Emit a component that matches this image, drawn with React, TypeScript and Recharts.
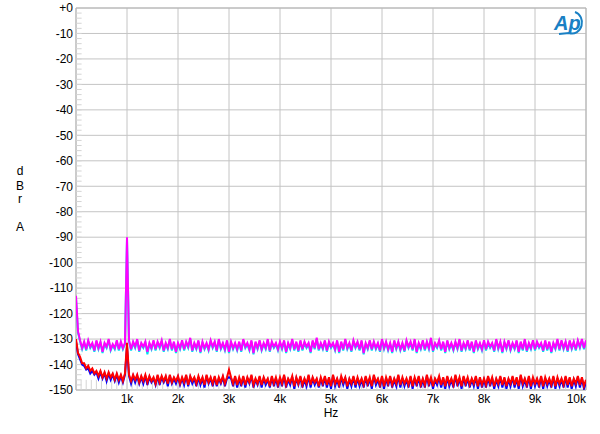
import React from 'react';
import { LineChart, Line, XAxis, YAxis, CartesianGrid, ReferenceLine, ReferenceArea } from 'recharts';

// FFT bin spacing (Hz) of the measurement
const BIN_HZ = 40;

const X_TICKS = [1000, 2000, 3000, 4000, 5000, 6000, 7000, 8000, 9000, 10000];
const X_LABELS = ['1k', '2k', '3k', '4k', '5k', '6k', '7k', '8k', '9k', '10k'];
const Y_TICKS = [-150, -140, -130, -120, -110, -100, -90, -80, -70, -60, -50, -40, -30, -20, -10, 0];

const CYAN = [
  -114, -127.5, -131, -134, -131.5, -134.5, -131, -133.5, -132, -135,
  -131, -134, -131.5, -135.5, -132, -133.5, -130.5, -134.5, -132.5, -134,
  -131, -134.5, -131.5, -134, -132, -90.5, -131, -134.5, -131.5, -133.5,
  -130.5, -135, -132, -133.5, -131.5, -136, -132, -134, -131, -134.5,
  -131.5, -133.5, -131, -135, -132, -134, -130.5, -134.5, -131.5, -135.5,
  -132, -134, -131, -134.5, -131.5, -133.5, -130, -135, -132, -134,
  -131, -135.5, -131.5, -134, -132, -134.5, -131, -133.5, -131.5, -135,
  -130.5, -134, -132, -134.5, -131, -135.5, -131.5, -134, -132, -134.5,
  -131.5, -135, -130.5, -133.5, -132, -134.5, -131, -136, -131.5, -134,
  -131, -134.5, -132, -134, -130.5, -135, -131.5, -133.5, -132, -134.5,
  -131.5, -134, -131, -135.5, -132, -134, -130.5, -134.5, -131.5, -135,
  -131, -134.5, -131.5, -133.5, -132, -135.5, -131, -134, -130, -134.5,
  -132, -134, -131, -135, -131.5, -133.5, -132, -134.5, -131, -135.5,
  -131.5, -134.5, -130.5, -134, -132, -135, -131, -133.5, -131.5, -134.5,
  -131, -136, -132, -134, -131, -134.5, -131.5, -134, -132, -135,
  -130.5, -134, -131.5, -134.5, -132, -135.5, -131, -134, -131.5, -134.5,
  -132, -135, -131, -133.5, -131.5, -134.5, -130.5, -135.5, -132, -134,
  -131, -134.5, -131.5, -134, -130, -135, -132, -133.5, -131, -134.5,
  -131.5, -135.5, -131, -134, -132, -134.5, -131.5, -134, -130.5, -135,
  -132, -134, -131, -134.5, -131.5, -135.5, -131, -134, -132, -134.5,
  -131, -134.5, -131.5, -133.5, -132, -135, -130.5, -134, -131.5, -135.5,
  -131.5, -134, -131, -134.5, -132, -134, -131, -135.5, -131.5, -134.5,
  -130.5, -135, -132, -134, -131, -134.5, -131.5, -133.5, -132, -135,
  -131, -134.5, -131.5, -135.5, -132, -134, -130.5, -134.5, -131, -134,
  -131.5, -135, -131, -134, -131.5, -134.5, -131, -133.5, -130.5, -134,
  -131,
];

const MAGENTA = [
  -113, -127, -130.5, -133.5, -131, -134, -130.5, -133, -131.5, -134.5,
  -130.5, -133.5, -131, -135, -131.5, -133, -130, -134, -132, -133.5,
  -130.5, -134, -131, -133.5, -131.5, -90, -130.5, -134, -131, -133,
  -130, -134.5, -131.5, -133, -131, -135, -131.5, -133.5, -130.5, -134,
  -131, -133, -130.5, -134.5, -131.5, -133.5, -130, -134, -131, -135,
  -131.5, -133.5, -130.5, -134, -131, -133, -129.5, -134.5, -131.5, -133.5,
  -130.5, -135, -131, -133.5, -131.5, -134, -130.5, -133, -131, -134.5,
  -130, -133.5, -131.5, -134, -130.5, -135, -131, -133.5, -131.5, -134,
  -131, -134.5, -130, -133, -131.5, -134, -130.5, -135.5, -131, -133.5,
  -130.5, -134, -131.5, -133.5, -130, -134.5, -131, -133, -131.5, -134,
  -131, -133.5, -130.5, -135, -131.5, -133.5, -130, -134, -131, -134.5,
  -130.5, -134, -131, -133, -131.5, -135, -130.5, -133.5, -129.5, -134,
  -131.5, -133.5, -130.5, -134.5, -131, -133, -131.5, -134, -130.5, -135,
  -131, -134, -130, -133.5, -131.5, -134.5, -130.5, -133, -131, -134,
  -130.5, -135.5, -131.5, -133.5, -130.5, -134, -131, -133.5, -131.5, -134.5,
  -130, -133.5, -131, -134, -131.5, -135, -130.5, -133.5, -131, -134,
  -131.5, -134.5, -130.5, -133, -131, -134, -130, -135, -131.5, -133.5,
  -130.5, -134, -131, -133.5, -129.5, -134.5, -131.5, -133, -130.5, -134,
  -131, -135, -130.5, -133.5, -131.5, -134, -131, -133.5, -130, -134.5,
  -131.5, -133.5, -130.5, -134, -131, -135, -130.5, -133.5, -131.5, -134,
  -130.5, -134, -131, -133, -131.5, -134.5, -130, -133.5, -131, -135,
  -131, -133.5, -130.5, -134, -131.5, -133.5, -130.5, -135, -131, -134,
  -130, -134.5, -131.5, -133.5, -130.5, -134, -131, -133, -131.5, -134.5,
  -130.5, -134, -131, -135, -131.5, -133.5, -130, -134, -130.5, -133.5,
  -131, -134.5, -130.5, -133.5, -131, -134, -130.5, -133, -130, -133.5,
  -130.5,
];

const BLUE = [
  -131, -136, -138, -140, -140.5, -142, -141.5, -143.5, -142.5, -144,
  -143, -145.5, -143, -145.5, -143.5, -146.5, -143.5, -146, -144, -146.5,
  -144, -147, -144.5, -147, -144, -133, -144.5, -147.5, -144.5, -147,
  -144.5, -147.5, -145, -147.5, -144.5, -148, -145, -147, -145.5, -148,
  -144.5, -148, -145, -147, -145, -148.5, -144.5, -147.5, -145.5, -147.5,
  -145, -148, -145.5, -148, -144.5, -148.5, -145, -147.5, -145.5, -148.5,
  -145, -148, -145.5, -149, -144.5, -147.5, -145.5, -148.5, -145, -148.5,
  -145.5, -147.5, -145, -148.5, -145.5, -145, -145.5, -148.5, -145, -149,
  -145.5, -148.5, -145, -149, -145.5, -147.5, -144.5, -149, -146, -148,
  -145, -149, -145.5, -148, -146, -149, -145, -148.5, -145.5, -149,
  -145.5, -148.5, -144.5, -149, -146, -148, -145, -149.5, -145.5, -148,
  -145, -149, -146, -148.5, -144.5, -149, -145.5, -148, -146, -149,
  -145.5, -148.5, -145, -149, -145.5, -149.5, -144.5, -148.5, -146, -149,
  -145, -148, -145.5, -149.5, -146, -148.5, -145, -149, -145.5, -148.5,
  -146, -149, -145, -148.5, -145.5, -149.5, -144.5, -148, -146, -149,
  -145, -149.5, -145.5, -148.5, -145, -149, -146, -148.5, -144.5, -149,
  -145.5, -148.5, -146, -149, -145, -149.5, -145.5, -148.5, -145, -149,
  -146, -149, -144.5, -148.5, -145.5, -149.5, -146, -148, -145, -149,
  -145.5, -149.5, -145, -148.5, -146, -149, -144.5, -148.5, -145.5, -149.5,
  -145, -148.5, -145.5, -149, -146, -148.5, -145, -149.5, -145.5, -149,
  -146, -149, -145, -148.5, -145.5, -149.5, -146, -148.5, -145, -149,
  -145.5, -149.5, -146, -148.5, -145, -149, -145.5, -149.5, -144.5, -148.5,
  -146, -149, -145, -149.5, -145.5, -148.5, -146, -149, -145, -149.5,
  -145.5, -148.5, -146, -149, -145, -149.5, -145.5, -148.5, -146, -149,
  -145, -149, -145.5, -149.5, -146, -148.5, -145, -149, -145.5, -149.5,
  -147,
];

const RED = [
  -130, -135.5, -137, -139.5, -139.5, -141.5, -140.5, -142.5, -141.5, -143.5,
  -142.5, -144.5, -142.5, -145, -143, -145.5, -143, -145, -143.5, -146,
  -143.5, -146, -144, -146.5, -143.5, -131.5, -144, -146.5, -144, -146,
  -144, -147, -144.5, -146.5, -144, -147, -144.5, -146.5, -145, -147.5,
  -144, -147, -144.5, -146.5, -144.5, -147.5, -144, -147, -145, -146.5,
  -144.5, -147.5, -145, -147, -144, -148, -144.5, -146.5, -145, -147.5,
  -144.5, -147, -145, -148, -144, -147, -145, -147.5, -144.5, -148,
  -145, -147, -144.5, -147.5, -145, -142, -145, -147.5, -144.5, -148,
  -145, -147.5, -144.5, -148, -145, -147, -144, -148, -145.5, -147.5,
  -144.5, -148, -145, -147, -145.5, -148.5, -144.5, -147.5, -145, -148,
  -145, -147.5, -144, -148, -145.5, -147, -144.5, -148.5, -145, -147.5,
  -144.5, -148, -145.5, -147.5, -144, -148, -145, -147, -145.5, -148.5,
  -145, -147.5, -144.5, -148, -145, -148.5, -144, -147.5, -145.5, -148,
  -144.5, -147, -145, -148.5, -145.5, -147.5, -144.5, -148, -145, -147.5,
  -145.5, -148, -144.5, -147.5, -145, -148.5, -144, -147, -145.5, -148,
  -144.5, -148.5, -145, -147.5, -144.5, -148, -145.5, -147.5, -144, -148,
  -145, -147.5, -145.5, -148, -144.5, -148.5, -145, -147.5, -144.5, -148,
  -145.5, -148, -144, -147.5, -145, -148.5, -145.5, -147, -144.5, -148,
  -145, -148.5, -144.5, -147.5, -145.5, -148, -144, -147.5, -145, -148.5,
  -144.5, -147.5, -145, -148, -145.5, -147.5, -144.5, -148.5, -145, -148,
  -145.5, -148, -144.5, -147.5, -145, -148.5, -145.5, -147.5, -144.5, -148,
  -145, -148.5, -145.5, -147.5, -144.5, -148, -145, -148.5, -144, -147.5,
  -145.5, -148, -144.5, -148.5, -145, -147.5, -145.5, -148, -144.5, -148.5,
  -145, -147.5, -145.5, -148, -144.5, -148.5, -145, -147.5, -145.5, -148,
  -144.5, -148, -145, -148.5, -145.5, -147.5, -144.5, -148, -145, -148.5,
  -146,
];

const DATA = MAGENTA.map((_, i) => ({
  f: i * BIN_HZ,
  cyan: CYAN[i],
  magenta: MAGENTA[i],
  blue: BLUE[i],
  red: RED[i],
}));

// minor tick positions (axis decoration)
const X_MINOR: number[] = [];
for (let f = 100; f < 10000; f += 100) X_MINOR.push(f);
const Y_MINOR: number[] = [];
for (let v = -148; v < 0; v += 2) Y_MINOR.push(v);

const FONT = '"Liberation Sans", Arial, sans-serif';

const XTick = (props: any) => {
  const { x, y, payload, index } = props;
  const label = X_LABELS[index] ?? '';
  const last = payload.value === 10000;
  return (
    <text x={x} y={y} dy="0.71em" textAnchor={last ? 'end' : 'middle'} fontSize={12} fontFamily={FONT} fill="#000">
      {label}
    </text>
  );
};

export default function App() {
  return (
    <div style={{ position: 'absolute', left: 0, top: 0, width: 600, height: 434, background: '#fff' }}>
      <LineChart width={600} height={434} data={DATA} margin={{ top: 8, right: 14, bottom: 0, left: 0 }}>
        <CartesianGrid stroke="#c4c4c4" strokeWidth={1} vertical horizontal />
        <XAxis
          dataKey="f"
          type="number"
          domain={[0, 10000]}
          ticks={X_TICKS}
          height={44}
          axisLine={false}
          tickLine={false}
          tickSize={0}
          tickMargin={4}
          tick={<XTick />}
          interval={0}
          allowDataOverflow
        />
        <YAxis
          type="number"
          domain={[-150, 0]}
          ticks={Y_TICKS}
          width={76}
          axisLine={false}
          tickLine={false}
          tickSize={0}
          tickMargin={3}
          interval={0}
          tick={{ fontSize: 12, fontFamily: FONT, fill: '#000' }}
          tickFormatter={(v: number) => (v === 0 ? '+0' : String(v))}
          allowDataOverflow
        />
        <ReferenceArea x1={0} x2={10000} y1={-150} y2={0} fill="none" stroke="#b4b4b4" strokeWidth={1} ifOverflow="visible" />
        {Y_MINOR.map((v) => (
          <ReferenceLine key={'ym' + v} segment={[{ x: 0, y: v }, { x: 110, y: v }]} stroke="#d4d4d4" strokeWidth={1} ifOverflow="visible" />
        ))}
        {X_MINOR.map((f) => (
          <ReferenceLine key={'xm' + f} segment={[{ x: f, y: -150 }, { x: f, y: -146 }]} stroke="#d4d4d4" strokeWidth={1} ifOverflow="visible" />
        ))}
        <Line type="linear" dataKey="cyan" stroke="#00e0f0" strokeWidth={2} dot={false} isAnimationActive={false} />
        <Line type="linear" dataKey="magenta" stroke="#ff00ff" strokeWidth={2} dot={false} isAnimationActive={false} />
        <Line type="linear" dataKey="blue" stroke="#0000ff" strokeWidth={2} dot={false} isAnimationActive={false} />
        <Line type="linear" dataKey="red" stroke="#ff0000" strokeWidth={2} dot={false} isAnimationActive={false} />
      </LineChart>
      <svg width={600} height={434} style={{ position: 'absolute', left: 0, top: 0, pointerEvents: 'none' }}>
        <g fontFamily={FONT} fontSize={12} fill="#000" textAnchor="middle">
          <text x={20} y={175}>d</text>
          <text x={20} y={190}>B</text>
          <text x={20} y={203}>r</text>
          <text x={20} y={231}>A</text>
          <text x={331} y={417}>Hz</text>
        </g>
        <g>
          <text x={554} y={30} fontFamily={FONT} fontSize={20} fontStyle="italic" fontWeight="bold" fill="#1a80c4">Ap</text>
          <path d="M 575 12 A 10 11 0 0 1 569 33 L 559 34" fill="none" stroke="#1a80c4" strokeWidth={2} />
        </g>
      </svg>
    </div>
  );
}
